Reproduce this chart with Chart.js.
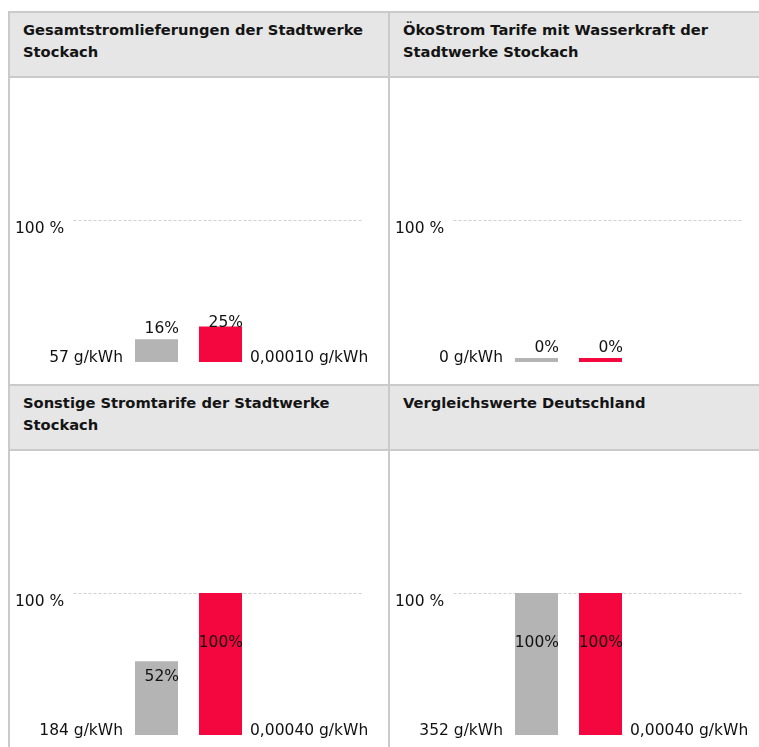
<!DOCTYPE html>
<html>
<head>
<meta charset="utf-8">
<title>Stromkennzeichnung Stadtwerke Stockach</title>
<script src="https://cdn.jsdelivr.net/npm/chart.js"></script>
<style>
  body { margin: 0; background: #fff; width: 759px; height: 747px; overflow: hidden; }
  .grid { position: absolute; left: 8px; top: 11px; width: 749px; display: grid;
          grid-template-columns: 380px 369px;
          border-top: 2px solid #cacaca; border-left: 2px solid #cacaca; }
  .cell { border-right: 2px solid #cacaca; border-bottom: 2px solid #cacaca; overflow: hidden; }
  .cell:nth-child(2n) { border-right: none; }
  .head { height: 65px; box-sizing: border-box; background: #e6e6e6;
          border-bottom: 2px solid #cacaca; padding: 6px 0 0 13px;
          font: bold 14.7px "DejaVu Sans"; line-height: 22px; color: #141414;
          white-space: pre-line; }
  canvas { display: block; }
</style>
</head>
<body>
<div class="grid" id="grid"></div>

<script>
  // one entry per panel
  var titles = [
    'Gesamtstromlieferungen der Stadtwerke\nStockach',
    'ÖkoStrom Tarife mit Wasserkraft der\nStadtwerke Stockach',
    'Sonstige Stromtarife der Stadtwerke\nStockach',
    'Vergleichswerte Deutschland'
  ];
  var co2Labels = ['57 g/kWh', '0 g/kWh', '184 g/kWh', '352 g/kWh'];
  var wasteLabels = ['0,00010 g/kWh', '', '0,00040 g/kWh', '0,00040 g/kWh'];
  var co2Percent = [16, 0, 52, 100];     // grey bars
  var wastePercent = [25, 0, 100, 100];  // red bars
  var categories = ['CO2', 'Atommüll'];
  var refTick = 100;
  var refTickLabel = '100 %';

  var grey = '#b4b4b4';
  var red = '#f4073e';
  var textFont = '15.5px "DejaVu Sans"';
  var textColor = '#111';

  var labelPlugin = {
    id: 'panelLabels',
    beforeDatasetsDraw: function (chart) {
      var c = chart.ctx, area = chart.chartArea;
      var y = Math.round(chart.scales.y.getPixelForValue(refTick)) + 0.5;
      c.save();
      c.strokeStyle = '#cfcfcf';
      c.lineWidth = 1;
      c.setLineDash([3, 2]);
      c.beginPath();
      c.moveTo(area.left - 51, y);
      c.lineTo(area.right + 110, y);
      c.stroke();
      c.setLineDash([]);
      c.font = textFont;
      c.fillStyle = textColor;
      c.textBaseline = 'alphabetic';
      c.textAlign = 'left';
      c.fillText(refTickLabel, 5, y + 12);
      c.restore();
    },
    afterDatasetsDraw: function (chart) {
      var c = chart.ctx;
      var i = chart.options.plugins.panelLabels.index;
      var bars = chart.getDatasetMeta(0).data;
      c.save();
      c.font = textFont;
      c.fillStyle = textColor;
      c.textBaseline = 'alphabetic';
      c.textAlign = 'right';
      c.fillText(co2Labels[i], bars[0].x - bars[0].width / 2 - 12, bars[0].base);
      c.textAlign = 'left';
      c.fillText(wasteLabels[i], bars[1].x + bars[1].width / 2 + 8, bars[1].base);
      var vals = chart.data.datasets[0].data;
      c.textAlign = 'right';
      c.textBaseline = 'middle';
      bars.forEach(function (el, k) {
        var mid = (el.y + el.base) / 2;
        var ly = Math.max(mid - 23, el.y - 12) + 1.5;
        c.fillText(vals[k] + '%', el.x + el.width / 2 + 1, ly);
      });
      c.restore();
    }
  };

  var grid = document.getElementById('grid');
  for (var i = 0; i < titles.length; i++) {
    var cell = document.createElement('div');
    cell.className = 'cell';
    var head = document.createElement('div');
    head.className = 'head';
    head.textContent = titles[i];
    var cv = document.createElement('canvas');
    cv.width = i % 2 === 0 ? 378 : 369;
    cv.height = 306;
    cell.appendChild(head);
    cell.appendChild(cv);
    grid.appendChild(cell);

    new Chart(cv.getContext('2d'), {
      type: 'bar',
      data: {
        labels: categories,
        datasets: [{
          data: [co2Percent[i], wastePercent[i]],
          backgroundColor: [grey, red],
          borderWidth: 0,
          barPercentage: 0.672,
          categoryPercentage: 1,
          minBarLength: 4
        }]
      },
      options: {
        responsive: false,
        devicePixelRatio: 1,
        animation: false,
        layout: { padding: { top: 142, bottom: 22, left: 114.5, right: cv.width - 242.5 } },
        scales: {
          x: { display: false },
          y: { display: false, min: 0, max: 100 }
        },
        plugins: {
          legend: { display: false },
          tooltip: { enabled: false },
          panelLabels: { index: i }
        }
      },
      plugins: [labelPlugin]
    });
  }
</script>
</body>
</html>
